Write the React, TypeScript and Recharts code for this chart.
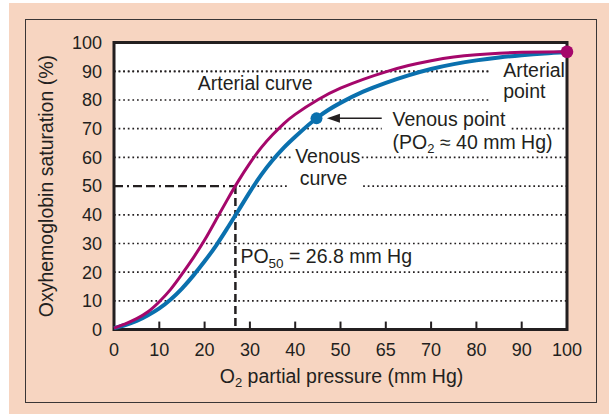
import React from 'react';
import {
  LineChart,
  Line,
  XAxis,
  YAxis,
  CartesianGrid,
  ReferenceLine,
  ReferenceDot,
  ReferenceArea,
  Label,
} from 'recharts';

// ---- data ----
const pressure = [0, 2.5, 5, 7.5, 10, 12.5, 15, 17.5, 20, 22.5, 25, 27.5, 30, 32.5, 35, 37.5, 40, 45, 50, 55, 60, 65, 70, 75, 80, 85, 90, 95, 100];
const arterialSat = [0.5, 2.0, 3.8, 6.2, 9.7, 14.0, 19.3, 25.0, 31.2, 38.2, 45.2, 51.9, 58.0, 63.4, 67.9, 71.8, 75.0, 80.1, 84.1, 87.2, 89.8, 92.0, 93.7, 95.0, 95.8, 96.3, 96.6, 96.75, 96.8];
const venousSat = [0.5, 1.6, 3.0, 5.0, 7.4, 10.5, 14.3, 18.8, 23.8, 29.2, 35.3, 41.6, 48.0, 53.9, 59.0, 63.4, 67.2, 74.0, 79.0, 82.9, 86.0, 88.6, 90.8, 92.5, 93.8, 94.8, 95.6, 96.2, 96.6];

const xTicks = [0, 10, 20, 30, 40, 50, 60, 70, 80, 90, 100];
const xTickLabels = ['0', '10', '20', '30', '40', '50', '65', '70', '80', '90', '100'];
const yTicks = [0, 10, 20, 30, 40, 50, 60, 70, 80, 90, 100];
const innerTicks = [10, 20, 30, 40, 50, 60, 70, 80, 90];

// dotted grid segments [y, fromX, toX]
const gridY = [90, 90, 80, 70, 70, 60, 60, 50, 50, 40, 30, 20, 10];
const gridFrom = [0, 0, 0, 0, 87.8, 0, 54.7, 27.6, 55, 0, 0, 0, 0];
const gridTo = [83, 83, 83, 59.1, 100, 39.2, 100, 38.4, 100, 100, 100, 100, 100];

const po50 = 26.8;
const arterialPoint = { x: 100, y: 96.8 };
const venousPoint = { x: 44.7, y: 73.6 };

const data = pressure.map((p, i) => ({ p, arterial: arterialSat[i], venous: venousSat[i] }));

const FONT = '"Liberation Sans", Arial, Helvetica, sans-serif';
const INK = '#231f20';
const MAGENTA = '#a5076b';
const BLUE = '#0a70ae';
const FS = 19.5;

const textShape = (lines: React.ReactNode) => (props: any) => (
  <text x={props.cx} y={props.cy} fontFamily={FONT} fontSize={FS} fill={INK}>
    {lines}
  </text>
);

const arrowShape = (props: any) => {
  const { cx, cy } = props;
  return <polygon points={`${cx},${cy} ${cx + 13},${cy - 4.5} ${cx + 13},${cy + 4.5}`} fill={INK} />;
};

const xTitle = (props: any) => {
  const vb = props.viewBox || {};
  const cx = vb.x + vb.width / 2 + 1;
  const y = vb.y + 53.5;
  return (
    <text x={cx} y={y} textAnchor="middle" fontFamily={FONT} fontSize={FS} fill={INK}>
      O<tspan fontSize={13} dy={4}>2</tspan>
      <tspan dy={-4}> partial pressure (mm Hg)</tspan>
    </text>
  );
};

const yTitle = (props: any) => {
  const vb = props.viewBox || {};
  const x = 53.5;
  const y = vb.y + vb.height / 2;
  return (
    <text
      x={x}
      y={y}
      textAnchor="middle"
      transform={`rotate(-90, ${x}, ${y})`}
      fontFamily={FONT}
      fontSize={FS}
      fill={INK}
    >
      Oxyhemoglobin saturation (%)
    </text>
  );
};

export default function App() {
  return (
    <div style={{ position: 'absolute', left: 0, top: 0, width: 609, height: 415, background: '#fff' }}>
      <div style={{ position: 'absolute', left: 8.5, top: 3, width: 600.5, height: 411.3, background: '#f7d5c1' }} />
      <div
        style={{
          position: 'absolute',
          left: 24.5,
          top: 18.5,
          width: 572.5,
          height: 384,
          border: '1.5px solid #3a3636',
          boxSizing: 'border-box',
        }}
      />
      <div style={{ position: 'absolute', left: 0, top: 0 }}>
        <LineChart
          width={609}
          height={415}
          data={data}
          margin={{ top: 42.6, right: 42, bottom: 55.4, left: 0 }}
        >
          <CartesianGrid fill="#ffffff" horizontal={false} vertical={false} />
          <XAxis
            dataKey="p"
            type="number"
            domain={[0, 100]}
            ticks={xTicks}
            tickFormatter={(v: number) => xTickLabels[xTicks.indexOf(v)] ?? String(v)}
            axisLine={false}
            tickLine={false}
            tickSize={6}
            tickMargin={7.6}
            height={30}
            interval={0}
            tick={{ fontFamily: FONT, fontSize: 18, fill: INK }}
            label={<Label content={xTitle} />}
          />
          <YAxis
            type="number"
            domain={[0, 100]}
            ticks={yTicks}
            axisLine={false}
            tickLine={false}
            tickSize={6}
            tickMargin={6}
            width={114}
            interval={0}
            tick={{ fontFamily: FONT, fontSize: 18, fill: INK }}
            label={<Label content={yTitle} />}
          />

          {gridY.map((y, i) => (
            <ReferenceLine
              key={`g${i}`}
              segment={[{ x: gridFrom[i], y }, { x: gridTo[i], y }]}
              stroke={INK}
              strokeWidth={1.7}
              strokeDasharray="1.7 2.9"
              ifOverflow="visible"
            />
          ))}

          {innerTicks.map((t) => (
            <ReferenceLine
              key={`t${t}`}
              segment={[{ x: t, y: 0 }, { x: t, y: 2.8 }]}
              stroke={INK}
              strokeWidth={2}
              ifOverflow="visible"
            />
          ))}

          <ReferenceLine
            segment={[{ x: 0, y: 50 }, { x: po50, y: 50 }]}
            stroke={INK}
            strokeWidth={2.2}
            strokeDasharray="9 4 2 4 9 4"
            ifOverflow="visible"
          />
          <ReferenceLine
            segment={[{ x: po50, y: 50 }, { x: po50, y: 0 }]}
            stroke={INK}
            strokeWidth={2.5}
            strokeDasharray="8 4"
            ifOverflow="visible"
          />

          <Line
            type="natural"
            dataKey="venous"
            stroke={BLUE}
            strokeWidth={4}
            dot={false}
            activeDot={false}
            isAnimationActive={false}
          />
          <Line
            type="natural"
            dataKey="arterial"
            stroke={MAGENTA}
            strokeWidth={3}
            dot={false}
            activeDot={false}
            isAnimationActive={false}
          />

          <ReferenceArea
            x1={0}
            x2={100}
            y1={0}
            y2={100}
            fill="none"
            stroke={INK}
            strokeWidth={3}
            ifOverflow="visible"
          />

          {/* arrow to venous point */}
          <ReferenceLine
            segment={[{ x: 49.5, y: venousPoint.y }, { x: 59.1, y: venousPoint.y }]}
            stroke={INK}
            strokeWidth={1.5}
            ifOverflow="visible"
          />
          <ReferenceDot x={47.0} y={venousPoint.y} r={1} ifOverflow="visible" shape={arrowShape} />

          <ReferenceDot x={venousPoint.x} y={venousPoint.y} r={6} fill={BLUE} stroke="none" ifOverflow="visible" />
          <ReferenceDot x={arterialPoint.x} y={arterialPoint.y} r={6.3} fill={MAGENTA} stroke="none" ifOverflow="visible" />

          {/* annotations */}
          <ReferenceDot x={18.5} y={83.5} r={1} ifOverflow="visible" shape={textShape('Arterial curve')} />
          <ReferenceDot x={85.9} y={88.1} r={1} ifOverflow="visible" shape={textShape('Arterial')} />
          <ReferenceDot x={85.9} y={80.6} r={1} ifOverflow="visible" shape={textShape('point')} />
          <ReferenceDot x={61.5} y={71.0} r={1} ifOverflow="visible" shape={textShape('Venous point')} />
          <ReferenceDot
            x={61.5}
            y={62.8}
            r={1}
            ifOverflow="visible"
            shape={textShape(
              <>
                (PO<tspan fontSize={13} dy={4}>2</tspan>
                <tspan dy={-4}> ≈ 40 mm Hg)</tspan>
              </>
            )}
          />
          <ReferenceDot x={40.0} y={58.2} r={1} ifOverflow="visible" shape={textShape('Venous')} />
          <ReferenceDot x={41.0} y={50.4} r={1} ifOverflow="visible" shape={textShape('curve')} />
          <ReferenceDot
            x={27.9}
            y={23.1}
            r={1}
            ifOverflow="visible"
            shape={textShape(
              <>
                PO<tspan fontSize={13.5} dy={5}>50</tspan>
                <tspan dy={-5}> = 26.8 mm Hg</tspan>
              </>
            )}
          />
        </LineChart>
      </div>
    </div>
  );
}
